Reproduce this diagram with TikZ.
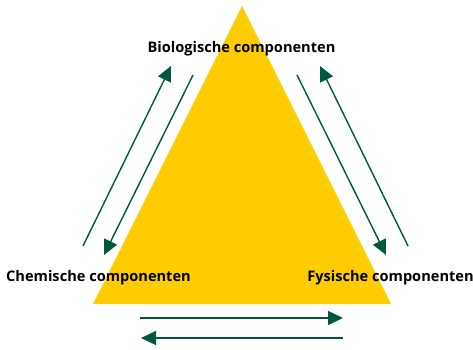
\documentclass[tikz,border=0pt]{standalone}
\usepackage{fontspec}
\setmainfont{Open Sans}
\usetikzlibrary{arrows.meta}
\definecolor{geel}{HTML}{FFCC00}
\definecolor{groen}{HTML}{00573F}

\begin{document}
\begin{tikzpicture}[x=1pt,y=-1pt,
	pijl/.style={draw=groen,line width=1.4pt,-{Triangle[length=15pt,width=14pt]}},
	comp/.style={font=\bfseries\fontsize{14.6}{17}\selectfont,inner sep=0pt}]
	\useasboundingbox (0,0) rectangle (473,350);
	\coordinate (T1) at (242,6);
	\coordinate (T2) at (391,304);
	\coordinate (T3) at (93,304);
	\fill[geel] (T1) -- (T2) -- (T3) -- cycle;
	\node[comp] (bio) at (241.5,49) {Biologische componenten};
	\node[comp] (chem) at (98.5,278) {Chemische componenten};
	\node[comp] (fys) at (390.5,278) {Fysische componenten};
	% links
	\coordinate (L1) at (83,246);
	\coordinate (L2) at (171,66);
	\coordinate (L3) at (193,75);
	\coordinate (L4) at (104,255);
	\draw[pijl] (L1) -- (L2);
	\draw[pijl] (L3) -- (L4);
	% rechts
	\coordinate (R1) at (297,75);
	\coordinate (R2) at (386,255);
	\coordinate (R3) at (408,246);
	\coordinate (R4) at (320,66);
	\draw[pijl] (R1) -- (R2);
	\draw[pijl] (R3) -- (R4);
	% onder
	\coordinate (O1) at (140,318);
	\coordinate (O2) at (343,318);
	\coordinate (O3) at (343,338);
	\coordinate (O4) at (141,338);
	\draw[pijl] (O1) -- (O2);
	\draw[pijl] (O3) -- (O4);
\end{tikzpicture}
\end{document}
